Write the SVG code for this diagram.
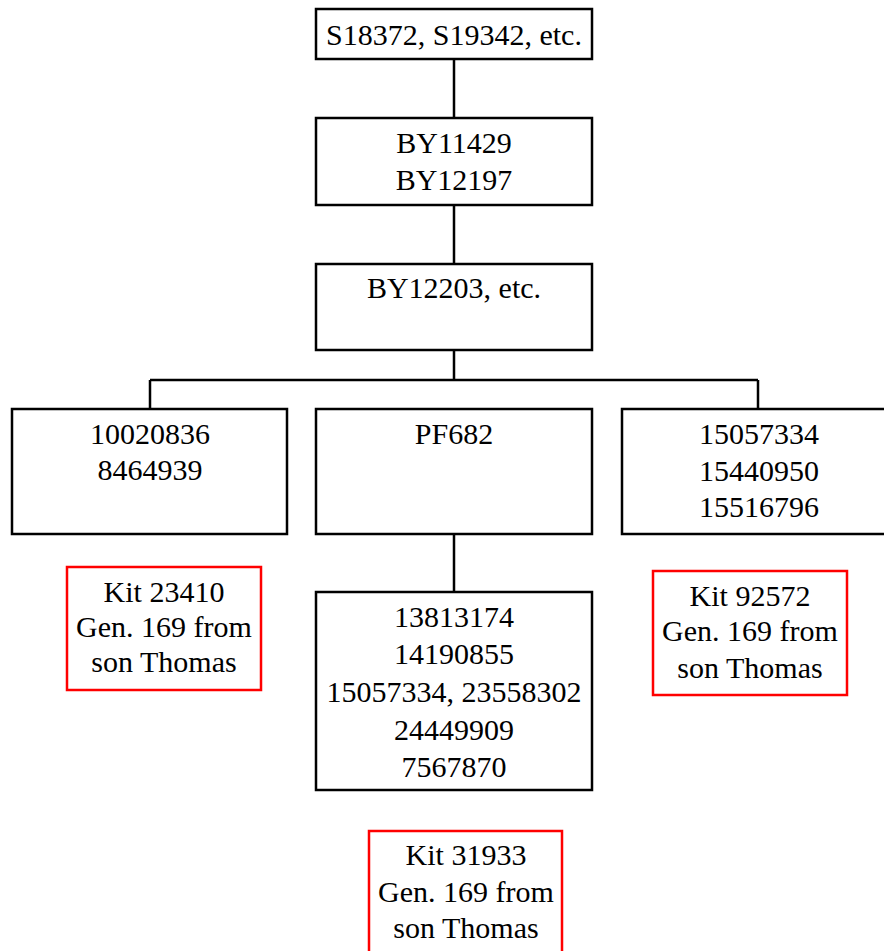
<svg xmlns="http://www.w3.org/2000/svg" width="884" height="951" viewBox="0 0 884 951">
<style>
.box{fill:#fff;stroke:#000;stroke-width:2.5}
.kit{fill:#fff;stroke:#ff0000;stroke-width:2.5}
text{font-family:"Liberation Serif","Times New Roman",serif;font-size:30px;fill:#000;text-anchor:middle}
.c{fill:none;stroke:#000;stroke-width:2.5}
</style>
<rect width="884" height="951" fill="#fff"/>
<g id="connectors">
<path class="c" d="M454 59V118M454 205V264M454 350V380M150 380H758M150 380V409M758 380V409M454 534V592"/>
</g>
<g id="n1"><rect class="box" x="316" y="9" width="276" height="50"/><text x="454" y="45">S18372, S19342, etc.</text></g>
<g id="n2"><rect class="box" x="316" y="118" width="276" height="87"/><text x="454" y="153">BY11429</text><text x="454" y="190">BY12197</text></g>
<g id="n3"><rect class="box" x="316" y="264" width="276" height="86"/><text x="454" y="298">BY12203, etc.</text></g>
<g id="n4"><rect class="box" x="12" y="409" width="275" height="125"/><text x="150" y="444">10020836</text><text x="150" y="480">8464939</text></g>
<g id="n5"><rect class="box" x="316" y="409" width="276" height="125"/><text x="454" y="444">PF682</text></g>
<g id="n6"><rect class="box" x="622" y="409" width="275" height="125"/><text x="759" y="444">15057334</text><text x="759" y="481">15440950</text><text x="759" y="517">15516796</text></g>
<g id="n7"><rect class="box" x="316" y="592" width="276" height="198"/><text x="454" y="627">13813174</text><text x="454" y="664">14190855</text><text x="454" y="702">15057334, 23558302</text><text x="454" y="740">24449909</text><text x="454" y="777">7567870</text></g>
<g id="k1"><rect class="kit" x="67" y="567" width="194" height="123"/><text x="164" y="602">Kit 23410</text><text x="164" y="637">Gen. 169 from</text><text x="164" y="672">son Thomas</text></g>
<g id="k2"><rect class="kit" x="653" y="571" width="194" height="124"/><text x="750" y="606">Kit 92572</text><text x="750" y="641">Gen. 169 from</text><text x="750" y="678">son Thomas</text></g>
<g id="k3"><rect class="kit" x="369" y="831" width="193" height="130"/><text x="466" y="865">Kit 31933</text><text x="466" y="902">Gen. 169 from</text><text x="466" y="938">son Thomas</text></g>
</svg>
